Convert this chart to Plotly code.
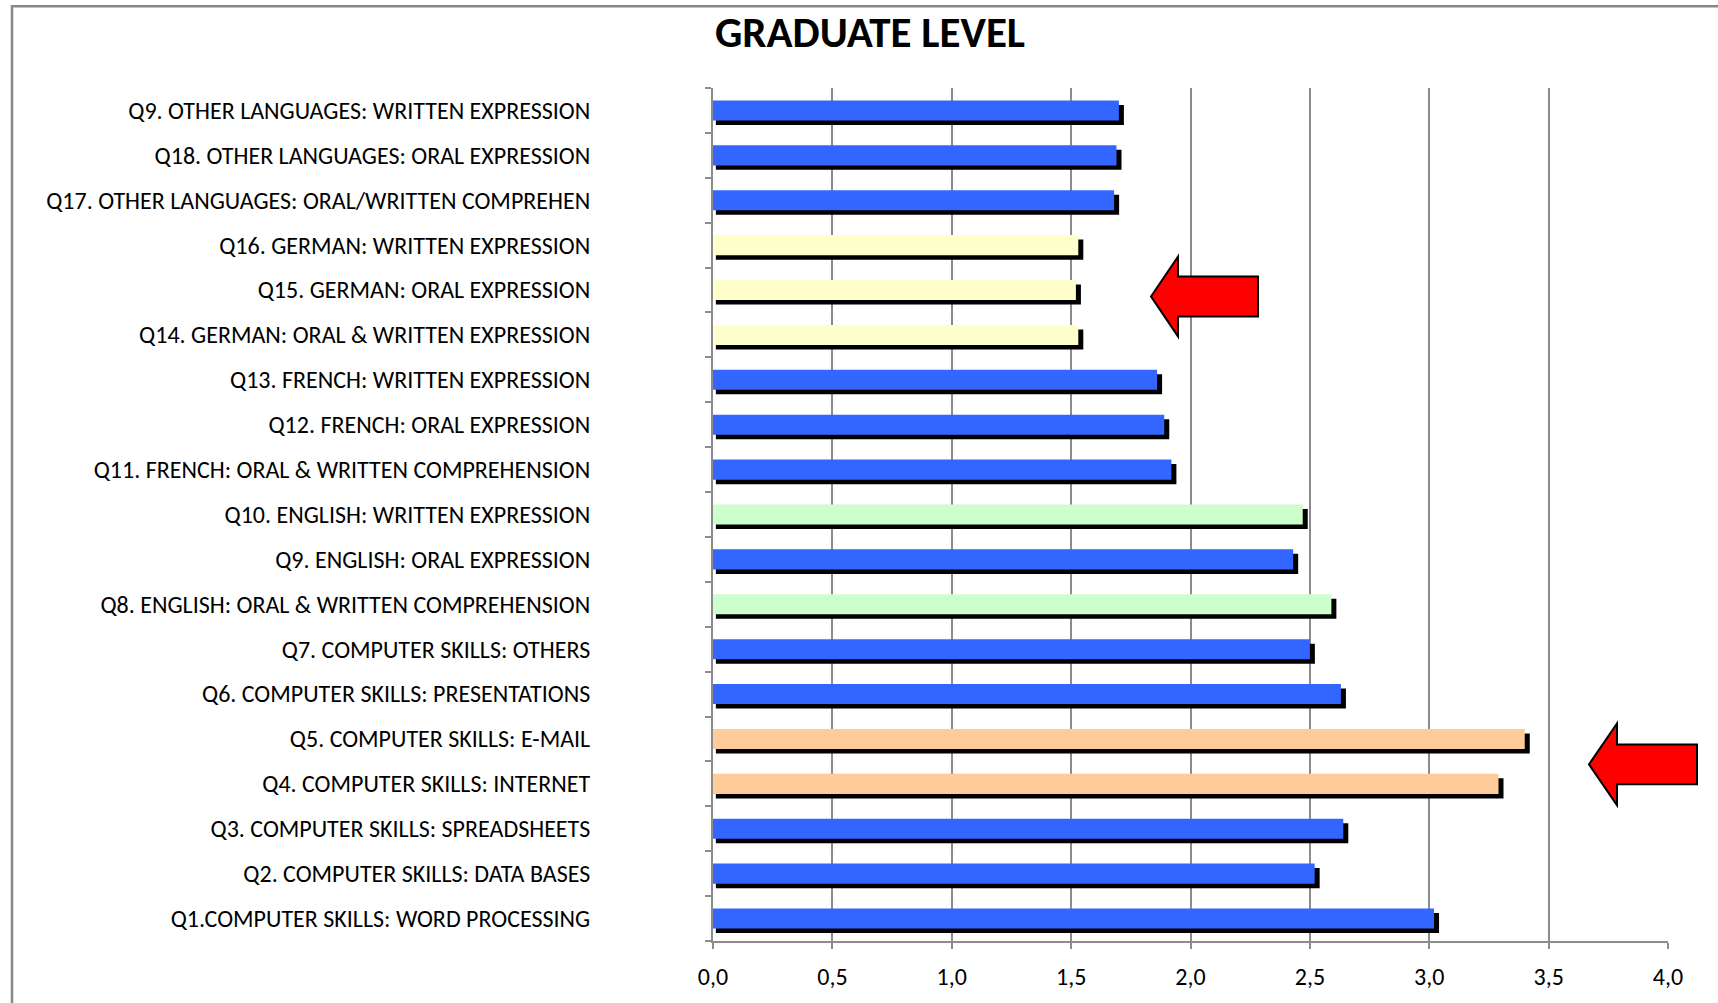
import plotly.graph_objects as go

# Survey items, listed bottom to top as they appear on the category axis
questions = [
    "Q1.COMPUTER SKILLS: WORD PROCESSING",
    "Q2. COMPUTER SKILLS: DATA BASES",
    "Q3. COMPUTER SKILLS: SPREADSHEETS",
    "Q4. COMPUTER SKILLS: INTERNET",
    "Q5. COMPUTER SKILLS: E-MAIL",
    "Q6. COMPUTER SKILLS: PRESENTATIONS",
    "Q7. COMPUTER SKILLS: OTHERS",
    "Q8. ENGLISH: ORAL & WRITTEN COMPREHENSION",
    "Q9. ENGLISH: ORAL EXPRESSION",
    "Q10. ENGLISH: WRITTEN EXPRESSION",
    "Q11. FRENCH: ORAL & WRITTEN COMPREHENSION",
    "Q12. FRENCH: ORAL EXPRESSION",
    "Q13. FRENCH: WRITTEN EXPRESSION",
    "Q14. GERMAN: ORAL & WRITTEN EXPRESSION",
    "Q15. GERMAN: ORAL EXPRESSION",
    "Q16. GERMAN: WRITTEN EXPRESSION",
    "Q17. OTHER LANGUAGES: ORAL/WRITTEN COMPREHEN",
    "Q18. OTHER LANGUAGES: ORAL EXPRESSION",
    "Q9. OTHER LANGUAGES: WRITTEN EXPRESSION",
]

# Mean score per item (graduate level)
scores = [3.02, 2.52, 2.64, 3.29, 3.40, 2.63, 2.50, 2.59, 2.43, 2.47,
          1.92, 1.89, 1.86, 1.53, 1.52, 1.53, 1.68, 1.69, 1.70]

# Highlight group per item
groups = ["base", "base", "base", "internet", "internet", "base", "base",
          "english", "base", "english", "base", "base", "base",
          "german", "german", "german", "base", "base", "base"]

x_ticks = [0.0, 0.5, 1.0, 1.5, 2.0, 2.5, 3.0, 3.5, 4.0]

# ---- styling ----
GROUP_COLORS = {
    "base": "#3366FF",
    "internet": "#FFCC99",
    "english": "#CCFFCC",
    "german": "#FFFFCC",
}
bar_colors = [GROUP_COLORS[g] for g in groups]
GRID = "#8C8C8C"
FONT = "Carlito, 'Liberation Sans Narrow', Lato, sans-serif"

FIG_W, FIG_H = 1718, 1003
M_L, M_R, M_T, M_B = 713, 50, 88, 60
PLOT_W = FIG_W - M_L - M_R
PLOT_H = FIG_H - M_T - M_B

BAR_W = 0.447
SHADOW_DROP = 0.10
SHADOW_LEFT = 0.012
SHADOW_RIGHT = 0.021


def to_paper(points):
    """Convert figure pixel coordinates into paper coordinates."""
    return [((x - M_L) / PLOT_W, (M_T + PLOT_H - y) / PLOT_H) for x, y in points]


def arrow_path(tip_x, tip_y, head_len, head_half, shaft_half, tail_x):
    pts = [
        (tip_x, tip_y),
        (tip_x + head_len, tip_y - head_half),
        (tip_x + head_len, tip_y - shaft_half),
        (tail_x, tip_y - shaft_half),
        (tail_x, tip_y + shaft_half),
        (tip_x + head_len, tip_y + shaft_half),
        (tip_x + head_len, tip_y + head_half),
    ]
    p = to_paper(pts)
    return "M " + " L ".join(f"{x:.5f},{y:.5f}" for x, y in p) + " Z"


fig = go.Figure()

# drop shadow behind each bar
fig.add_trace(go.Bar(
    y=questions,
    x=[v + SHADOW_RIGHT - SHADOW_LEFT for v in scores],
    base=SHADOW_LEFT,
    orientation="h",
    width=BAR_W,
    offset=-BAR_W / 2 - SHADOW_DROP,
    marker=dict(color="#000000", line=dict(width=0)),
    hoverinfo="skip",
    showlegend=False,
))

# score bars
fig.add_trace(go.Bar(
    y=questions,
    x=scores,
    orientation="h",
    width=BAR_W,
    offset=-BAR_W / 2,
    marker=dict(color=bar_colors, line=dict(width=0)),
    showlegend=False,
))

shapes = [
    # outer chart frame
    dict(type="rect", xref="paper", yref="paper",
         x0=(12 - M_L) / PLOT_W, x1=(FIG_W + 20 - M_L) / PLOT_W,
         y0=(M_T + PLOT_H - (FIG_H + 20)) / PLOT_H, y1=(M_T + PLOT_H - 6) / PLOT_H,
         line=dict(color="#888888", width=2.5), fillcolor="rgba(0,0,0,0)", layer="below"),
    # callout arrows
    dict(type="path", xref="paper", yref="paper",
         path=arrow_path(1151, 297, 27, 40, 20, 1258),
         fillcolor="#FF0000", line=dict(color="#000000", width=2)),
    dict(type="path", xref="paper", yref="paper",
         path=arrow_path(1589, 766, 28, 41, 20, 1697),
         fillcolor="#FF0000", line=dict(color="#000000", width=2)),
]

fig.update_layout(
    width=FIG_W, height=FIG_H,
    margin=dict(l=M_L, r=M_R, t=M_T, b=M_B, pad=0),
    paper_bgcolor="white", plot_bgcolor="white",
    barmode="overlay",
    separators=",.",
    font=dict(family=FONT, color="#000000", size=24),
    title=dict(text="<b>GRADUATE LEVEL</b>", x=870 / FIG_W, xanchor="center",
               y=1 - 32 / FIG_H, yanchor="middle",
               font=dict(family=FONT, size=43, color="#000000")),
    shapes=shapes,
    xaxis=dict(
        range=[0, 4], tickvals=x_ticks, tickformat=".1f",
        showgrid=True, gridcolor=GRID, gridwidth=2,
        showline=True, linecolor=GRID, linewidth=2,
        ticks="outside", ticklen=6, tickcolor=GRID, tickwidth=2,
        tickfont=dict(size=24), ticklabelstandoff=7, zeroline=False,
    ),
    yaxis=dict(
        type="category", categoryorder="array", categoryarray=questions,
        range=[-0.5, len(questions) - 0.5],
        showline=True, linecolor=GRID, linewidth=2,
        ticks="outside", tickson="boundaries", ticklen=6, tickcolor=GRID, tickwidth=2,
        ticklabelstandoff=116, showgrid=False,
        tickfont=dict(size=24),
    ),
)

fig.write_html("out.html")
